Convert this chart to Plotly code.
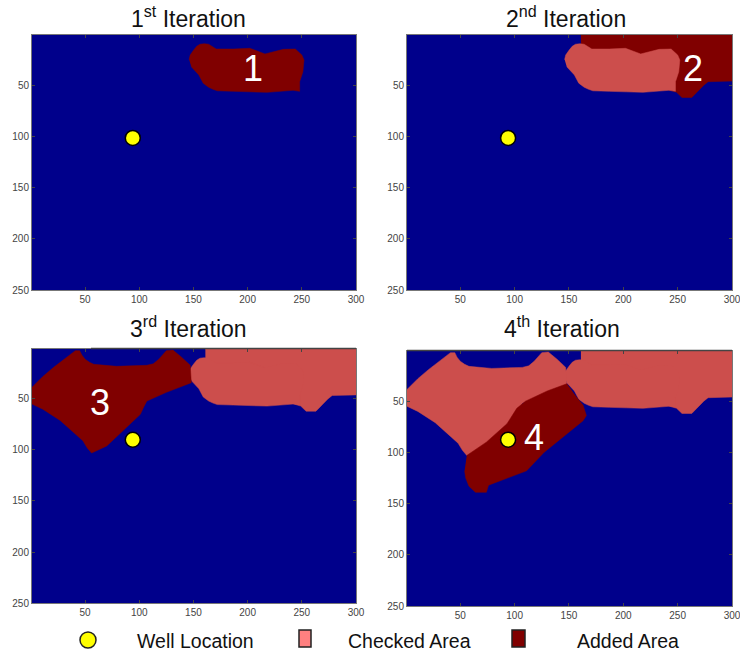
import plotly.graph_objects as go

# Region outlines (image column, image row)
area1_x = [146,147,150,153,156,160,164,171,187,202,216,225,233,244,250,252,251,248,248,242,218,187,172,168,164,159,155,148]
area1_y = [25,20.5,16,12,10,9.5,10,14.7,14.7,14,19.5,17,15,14.7,20.5,25.4,37,46.6,56,55,57,56,55.5,54,52,48,40,32]
area2_x = [161,300,300,278,274,268,263,254,249,200,161]
area2_y = [1,1,46,46.6,50,57,62,62,57,40,15]
area3_x = [1,11,21,31,41,45,47,50,54,58,79,107,113,118,125,131,139,147,148,125,107,104,101,93,85,70,62,56,52,48,27,11,1]
area3_y = [38.6,28,19,11,2.6,2.6,7,11,14,16,18,17,15.5,11,2.6,2,9,17,34,43.5,52,58,65,73,81,96,100,103,98,91,71,60,55]
area4_x = [56,74,93,102,110,130,148,154,163,166,163,142,127,111,96,76,74,64,58,55,54]
area4_y = [103,90,72,57,50,40,33,42,54,64,69,87,100,118,124,132,139,139,133,125,118]

well_x = [94, 94, 94, 94]
well_y = [101.5, 101.5, 90, 87.6]
titles = ["1<sup>st</sup> Iteration", "2<sup>nd</sup> Iteration",
          "3<sup>rd</sup> Iteration", "4<sup>th</sup> Iteration"]
step_labels = ["1", "2", "3", "4"]
step_x = [205, 264, 64, 118]
step_y = [33.5, 33.5, 53, 85]
x_ticks = [50, 100, 150, 200, 250, 300]
y_ticks = [50, 100, 150, 200, 250]
legend_labels = ["Well Location", "Checked Area", "Added Area"]

W, H = 740, 653
NAVY, DARK, CHECK = "#00008B", "#800000", "#CC4E4C"
FONT = "Liberation Sans"
boxes = [(32, 356, 35, 290), (407, 732, 35, 290), (32, 356, 349, 603), (407, 732, 351, 606)]
title_pos = [(188, 17), (566, 17), (188, 327), (562, 327)]
areas = {1: (area1_x, area1_y), 2: (area2_x, area2_y), 3: (area3_x, area3_y), 4: (area4_x, area4_y)}
panels = [
    [(1, DARK)],
    [(2, DARK), (1, CHECK)],
    [(2, CHECK), (1, CHECK), (3, DARK)],
    [(2, CHECK), (1, CHECK), (3, CHECK), (4, DARK)],
]

fig = go.Figure()
annos = []
for i, box in enumerate(boxes):
    sfx = "" if i == 0 else str(i + 1)
    xa, ya = "x" + sfx, "y" + sfx
    for key, color in panels[i]:
        ax_x, ax_y = areas[key]
        fig.add_trace(go.Scatter(x=ax_x, y=ax_y, xaxis=xa, yaxis=ya, mode="lines", fill="toself",
                                 fillcolor=color, line=dict(color=color, width=0.5), hoverinfo="skip"))
    fig.add_trace(go.Scatter(x=[well_x[i]], y=[well_y[i]], xaxis=xa, yaxis=ya, mode="markers",
                             marker=dict(size=15, color="#FFFF00", line=dict(color="black", width=1.5))))
    axis_common = dict(ticks="inside", ticklen=3, tickcolor="#444444", tickwidth=1, showgrid=False, zeroline=False,
                       showline=True, linecolor="#777777", linewidth=1, mirror="allticks", automargin=False,
                       ticklabeloverflow="allow",
                       tickfont=dict(family=FONT, size=10, color="#444444"))
    fig.update_layout({
        "xaxis" + sfx: dict(domain=[box[0] / W, box[1] / W], range=[1, 300], tickvals=x_ticks,
                            anchor=ya, **axis_common),
        "yaxis" + sfx: dict(domain=[1 - box[3] / H, 1 - box[2] / H], range=[250, 1], tickvals=y_ticks,
                            anchor=xa, **axis_common),
    })
    annos.append(dict(text=step_labels[i], x=step_x[i], y=step_y[i], xref=xa, yref=ya, showarrow=False,
                      font=dict(family=FONT, size=36, color="white")))
    annos.append(dict(text=titles[i], x=title_pos[i][0] / W, y=1 - title_pos[i][1] / H, xref="paper", yref="paper",
                      showarrow=False, xanchor="center", yanchor="middle",
                      font=dict(family=FONT, size=23, color="#111111")))

for label, px in zip(legend_labels, [135, 346, 575]):
    annos.append(dict(text=label, x=px / W, y=1 - 641 / H, xref="paper", yref="paper", showarrow=False,
                      xanchor="left", yanchor="middle", font=dict(family=FONT, size=19.5, color="#111111")))

def px_shape(kind, x0, x1, y0, y1, fill):
    return dict(type=kind, xref="paper", yref="paper", x0=x0 / W, x1=x1 / W, y0=1 - y0 / H, y1=1 - y1 / H,
                fillcolor=fill, line=dict(color="#222222", width=1.5))

def top_rule(x0, x1, y):
    return dict(type="line", xref="paper", yref="paper", x0=x0 / W, x1=x1 / W, y0=1 - y / H, y1=1 - y / H,
                line=dict(color="#444444", width=1.5))

shapes = [
    px_shape("circle", 80, 96, 632, 648, "#FFFF00"),
    px_shape("rect", 299, 311, 630, 647, "#FF8080"),
    px_shape("rect", 512, 525, 630, 647, DARK),
    top_rule(91, 356, 348.5),
    top_rule(407, 732, 350.5),
]

fig.update_layout(width=W, height=H, margin=dict(l=0, r=0, t=0, b=0), paper_bgcolor="white",
                  plot_bgcolor=NAVY, showlegend=False, annotations=annos, shapes=shapes)
fig.write_html("out.html", config={"displayModeBar": False},
               post_script="document.documentElement.style.overflow='hidden';document.body.style.overflow='hidden';document.body.style.margin='0';")
